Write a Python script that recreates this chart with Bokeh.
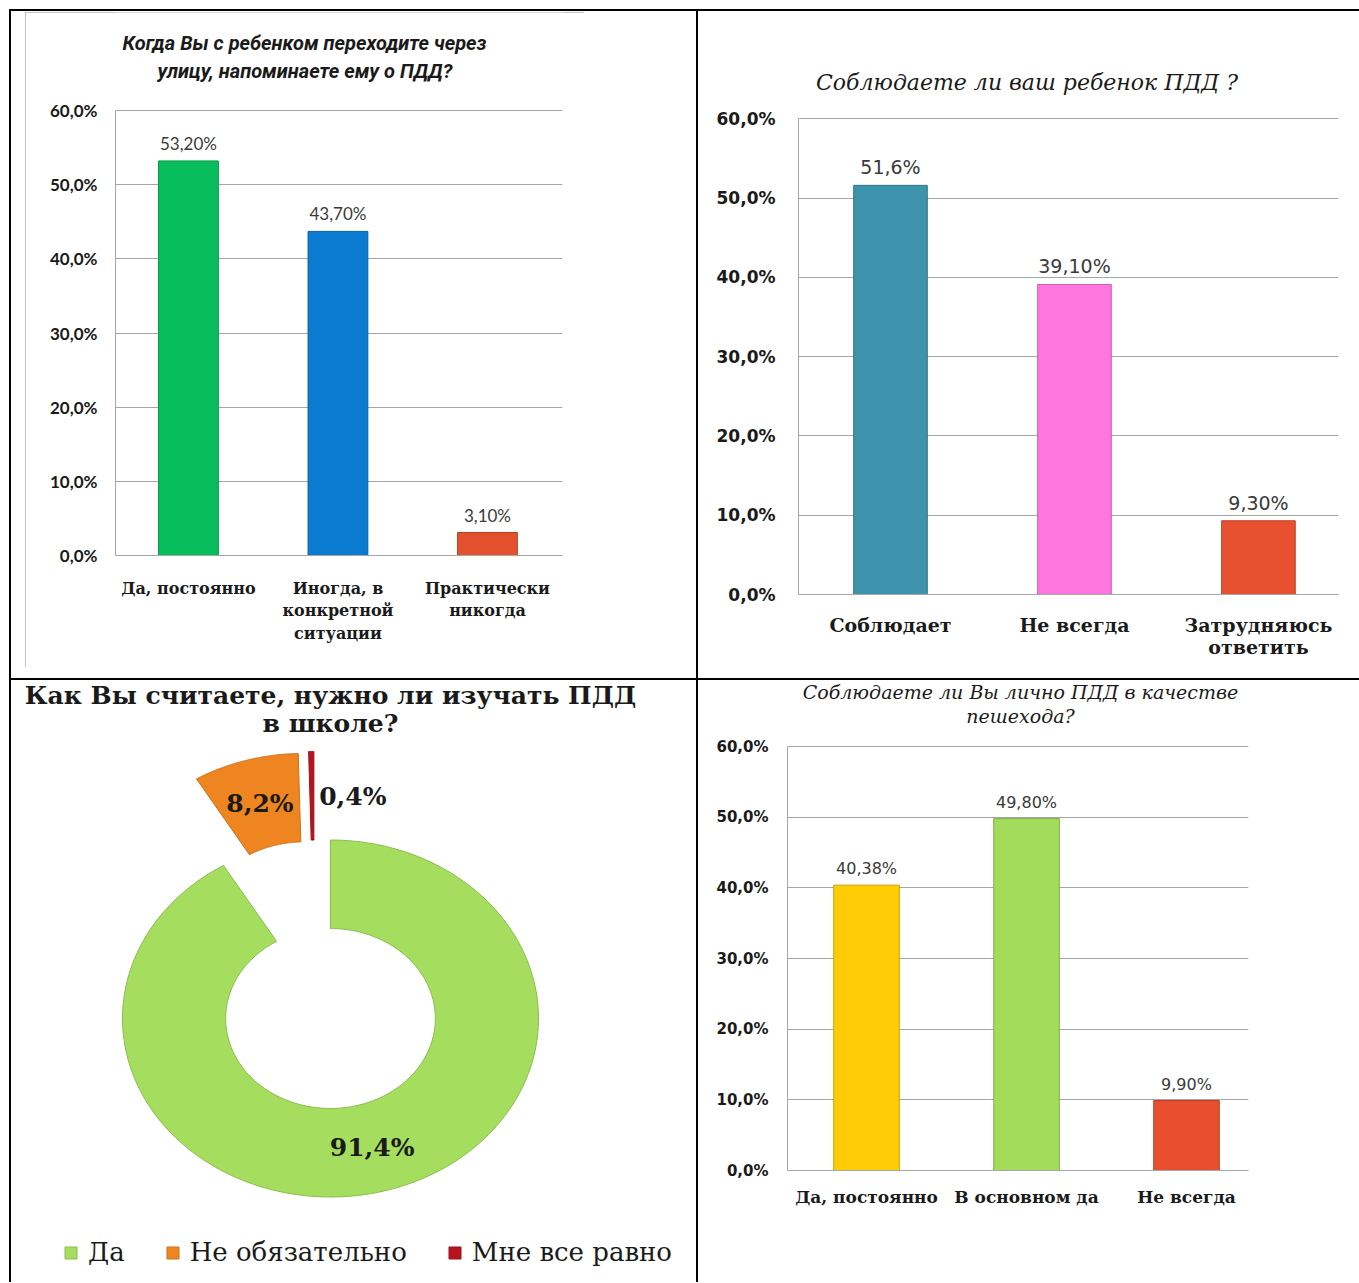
import numpy as np
from bokeh.plotting import figure
from bokeh.models import (Range1d, FixedTicker, Legend, LegendItem, Spacer,
                          ColumnDataSource)
from bokeh.layouts import row, column
from bokeh.embed import file_html
from bokeh.resources import INLINE
from bokeh.core.properties import value

# ---------------- data ----------------
y_ticks = [0, 10, 20, 30, 40, 50, 60]
y_tick_labels = ["0,0%", "10,0%", "20,0%", "30,0%", "40,0%", "50,0%", "60,0%"]

q1_title = ["Когда Вы с ребенком переходите через", "улицу, напоминаете ему о ПДД?"]
q1_categories = ["Да, постоянно", "Иногда, в\nконкретной\nситуации", "Практически\nникогда"]
q1_values = [53.2, 43.7, 3.1]
q1_labels = ["53,20%", "43,70%", "3,10%"]
q1_colors = ["#08BE5C", "#0A7BD0", "#E2502E"]

q2_title = ["Соблюдаете ли ваш ребенок ПДД ?"]
q2_categories = ["Соблюдает", "Не всегда", "Затрудняюсь\nответить"]
q2_values = [51.6, 39.1, 9.3]
q2_labels = ["51,6%", "39,10%", "9,30%"]
q2_colors = ["#3E93AD", "#FF76DE", "#E8512F"]

q3_title = ["Как Вы считаете, нужно ли изучать ПДД", "в школе?"]
q3_categories = ["Да", "Не обязательно", "Мне все равно"]
q3_values = [91.4, 8.2, 0.4]
q3_labels = ["91,4%", "8,2%", "0,4%"]
q3_colors = ["#A5DE5E", "#EE8521", "#B8141F"]

q4_title = ["Соблюдаете ли Вы лично ПДД в качестве", "пешехода?"]
q4_categories = ["Да, постоянно", "В основном да", "Не всегда"]
q4_values = [40.38, 49.8, 9.9]
q4_labels = ["40,38%", "49,80%", "9,90%"]
q4_colors = ["#FFCC05", "#A2DC5A", "#E84F2E"]


def darker(hexc, f=0.8):
    h = hexc.lstrip("#")
    r, g, b = (int(h[i:i + 2], 16) for i in (0, 2, 4))
    return "#%02x%02x%02x" % (int(r * f), int(g * f), int(b * f))


def bar_chart(fig_left, fig_top, width, height, frame_left, frame_right, y0_px, y60_px,
              xr, bar_width, cats, vals, labels, colors,
              title, title_pos, t_font, t_size, t_style,
              tick_font, tick_size, tick_standoff,
              cat_font, cat_size, cat_standoff, cat_lh,
              lab_font, lab_size):
    k = (y0_px - y60_px) / 60.0
    y_end = 60 + (y60_px - fig_top) / k
    p = figure(width=width, height=height, x_range=Range1d(*xr), y_range=Range1d(0, y_end),
               output_backend="svg", toolbar_location=None,
               min_border_left=frame_left - fig_left,
               min_border_right=fig_left + width - frame_right,
               min_border_top=0, min_border_bottom=fig_top + height - y0_px)
    p.outline_line_color = None
    xs = list(range(len(cats)))
    src = ColumnDataSource(dict(x=xs, top=vals, label=labels, color=colors,
                                line=[darker(c) for c in colors]))
    p.vbar(x="x", top="top", bottom=0, width=bar_width, fill_color="color",
           line_color="line", line_width=1, source=src)
    p.text(x="x", y="top", text="label", source=src, text_align="center",
           text_baseline="bottom", y_offset=-7, text_font=value(lab_font),
           text_font_size=lab_size, text_color="#3a3a3a")
    # title lines as text inside the (taller) frame
    ux = (frame_right - frame_left) / (xr[1] - xr[0])
    tsrc = ColumnDataSource(dict(
        x=[xr[0] + (px - frame_left) / ux for px, py in title_pos],
        y=[(y0_px - py) / k for px, py in title_pos], text=title))
    p.text(x="x", y="y", text="text", source=tsrc, text_align="center",
           text_baseline="middle", text_font=value(t_font), text_font_size=t_size,
           text_font_style=t_style, text_color="#1a1a1a")
    # y axis
    p.yaxis.ticker = FixedTicker(ticks=y_ticks)
    p.yaxis.bounds = (0, 60)
    p.yaxis.major_label_overrides = {t: l for t, l in zip(y_ticks, y_tick_labels)}
    p.yaxis.major_label_text_font = tick_font
    p.yaxis.major_label_text_font_size = tick_size
    p.yaxis.major_label_text_font_style = "bold"
    p.yaxis.major_label_text_color = "#1a1a1a"
    p.yaxis.major_label_standoff = tick_standoff
    p.yaxis.major_tick_out = 0
    p.yaxis.major_tick_line_color = None
    p.yaxis.minor_tick_line_color = None
    p.yaxis.axis_line_color = "#A6A6A6"
    # x axis
    p.xaxis.ticker = FixedTicker(ticks=xs)
    p.xaxis.major_label_overrides = {i: c for i, c in zip(xs, cats)}
    p.xaxis.major_label_text_font = cat_font
    p.xaxis.major_label_text_font_size = cat_size
    p.xaxis.major_label_text_font_style = "bold"
    p.xaxis.major_label_text_color = "#1a1a1a"
    p.xaxis.major_label_standoff = cat_standoff
    p.xaxis.major_label_text_line_height = cat_lh
    p.xaxis.major_tick_out = 0
    p.xaxis.major_tick_line_color = None
    p.xaxis.minor_tick_line_color = None
    p.xaxis.axis_line_color = "#A6A6A6"
    p.xgrid.visible = False
    p.ygrid.ticker = FixedTicker(ticks=y_ticks)
    p.ygrid.grid_line_color = "#A6A6A6"
    return p


def hline(w):
    return Spacer(width=w, height=2, styles={"background-color": "#000000"})


def vline(h):
    return Spacer(width=2, height=h, styles={"background-color": "#000000"})


# ---- chart 1 (top-left) ----
p1 = bar_chart(25, 12, 559, 655, 115, 562, 555, 110, (-0.488, 2.502), 0.40,
               q1_categories, q1_values, q1_labels, q1_colors,
               q1_title, [(304, 42), (304.5, 70)], "Roboto", "20px", "bold italic",
               "Lato", "17px", 18,
               "DejaVu Serif", "16px", 23, 1.2,
               "Lato", "17px")
p1.styles = {"outline": "1px solid #B0B0B0", "outline-offset": "-1px"}

# ---- chart 2 (top-right) ----
p2 = bar_chart(698, 11, 661, 649, 798, 1338, 598, 119, (-0.5, 2.435), 0.40,
               q2_categories, q2_values, q2_labels, q2_colors,
               q2_title, [(1026.5, 82)], "DejaVu Serif", "22px", "italic",
               "DejaVu Sans", "17px", 23,
               "DejaVu Serif", "19px", 19, 1.0,
               "DejaVu Sans", "19px")

# ---- chart 4 (bottom-right) ----
p4 = bar_chart(698, 680, 661, 602, 787, 1248, 1170, 746, (-0.494, 2.3875), 0.41,
               q4_categories, q4_values, q4_labels, q4_colors,
               q4_title, [(1020, 691), (1020, 715)], "DejaVu Serif", "19px", "italic",
               "DejaVu Sans", "15px", 19,
               "DejaVu Serif", "17px", 16, 1.2,
               "DejaVu Sans", "16px")

# ---- chart 3 (bottom-left, exploded doughnut) ----
W3, H3 = 685, 602
cx_px, cy_px, sx, sy = 319, 338, 208.0, 178.5
p3 = figure(width=W3, height=H3, output_backend="svg", toolbar_location=None,
            x_range=Range1d(-cx_px / sx, (W3 - cx_px) / sx),
            y_range=Range1d(-(H3 - cy_px) / sy, cy_px / sy),
            x_axis_type=None, y_axis_type=None, min_border=0)
p3.grid.visible = False
p3.outline_line_color = None

inner_r = 0.504
slice_dx = [0.0, -0.13, -0.08]
slice_dy = [0.0, 0.485, 0.496]
label_r = 0.75
label_align = ["center", "center", "left"]
label_dx = [0.0, 0.0, 0.035]

fr = np.array(q3_values) / np.sum(q3_values)
ends = np.cumsum(fr) * 2 * np.pi
starts = ends - fr * 2 * np.pi
xs_list, ys_list, lx, ly = [], [], [], []
for i in range(len(q3_values)):
    th = np.linspace(starts[i], ends[i], 200)
    ox = slice_dx[i] + np.sin(th)
    oy = slice_dy[i] + np.cos(th)
    ix = slice_dx[i] + inner_r * np.sin(th[::-1])
    iy = slice_dy[i] + inner_r * np.cos(th[::-1])
    xs_list.append(list(np.concatenate([ox, ix])))
    ys_list.append(list(np.concatenate([oy, iy])))
    mid = (starts[i] + ends[i]) / 2
    lx.append(slice_dx[i] + label_r * np.sin(mid) + label_dx[i])
    ly.append(slice_dy[i] + label_r * np.cos(mid))

src3 = ColumnDataSource(dict(xs=xs_list, ys=ys_list, color=q3_colors,
                             line=[darker(c, 0.85) for c in q3_colors]))
r3 = p3.patches(xs="xs", ys="ys", fill_color="color", line_color="line",
                line_width=1, source=src3)
lsrc = ColumnDataSource(dict(x=lx, y=ly, text=q3_labels, align=label_align))
p3.text(x="x", y="y", text="text", text_align="align", text_baseline="middle",
        source=lsrc, text_font=value("DejaVu Serif"), text_font_style="bold",
        text_font_size="25px", text_color="#1a1a1a")
title_px = [15, 43]
tsrc = ColumnDataSource(dict(x=[0.0, 0.0], y=[(cy_px - t) / sy for t in title_px],
                             text=q3_title))
p3.text(x="x", y="y", text="text", source=tsrc, text_align="center",
        text_baseline="middle", text_font=value("DejaVu Serif"),
        text_font_style="bold", text_font_size="25px", text_color="#1a1a1a")
legend = Legend(items=[LegendItem(label=q3_categories[i], renderers=[r3], index=i)
                       for i in range(len(q3_categories))],
                orientation="horizontal", location=(52, 15), glyph_width=15,
                glyph_height=15, label_standoff=10, spacing=40, padding=0, margin=0,
                border_line_color=None, background_fill_alpha=0,
                label_text_font="DejaVu Serif", label_text_font_size="26px",
                label_text_color="#1a1a1a", label_height=30)
p3.add_layout(legend)

# ---------------- layout (table) ----------------
tl_cell = row(Spacer(width=14, height=667),
              column(Spacer(width=559, height=1), p1, Spacer(width=559, height=11)),
              Spacer(width=112, height=667))
tr_cell = column(p2, Spacer(width=661, height=18))
bl_cell = column(p3)
br_cell = column(p4)

layout = column(
    Spacer(width=1359, height=9),
    row(Spacer(width=9, height=2), hline(1350)),
    row(Spacer(width=9, height=667), vline(667), tl_cell, vline(667), tr_cell),
    row(Spacer(width=9, height=2), hline(1350)),
    row(Spacer(width=9, height=602), vline(602), bl_cell, vline(602), br_cell),
)

open("out.html", "w").write(file_html(layout, INLINE))
